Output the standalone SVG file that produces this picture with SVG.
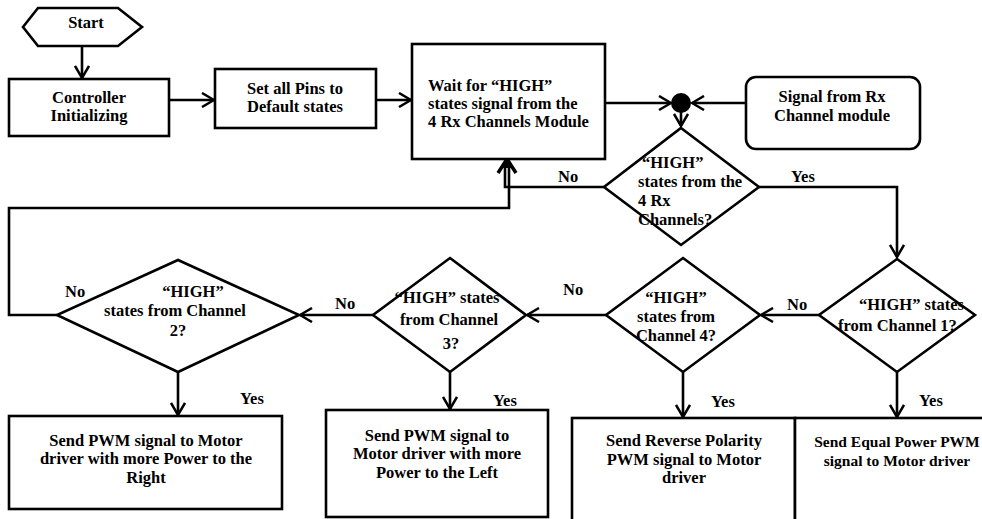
<svg xmlns="http://www.w3.org/2000/svg" width="982" height="519" viewBox="0 0 982 519">
<style>
.s{fill:#fff;stroke:#000;stroke-width:2.6}
.c{fill:none;stroke:#000;stroke-width:2.6}
text{font-family:"Liberation Serif","Times New Roman",serif;font-weight:bold;font-size:16.5px;fill:#000}
.m{text-anchor:middle}
.e{font-size:15.5px}
</style>
<defs>
<marker id="arr" viewBox="0 0 14 16" refX="13" refY="8" markerWidth="14" markerHeight="16" markerUnits="userSpaceOnUse" orient="auto">
<path d="M1,1 L13,8 L1,15" fill="none" stroke="#000" stroke-width="2.5"/>
</marker>
</defs>
<rect width="982" height="519" fill="#fff"/>
<g id="connectors">
<line class="c" x1="82" y1="46" x2="82" y2="78" marker-end="url(#arr)"/>
<line class="c" x1="169" y1="100" x2="214" y2="100" marker-end="url(#arr)"/>
<line class="c" x1="376" y1="100" x2="411" y2="100" marker-end="url(#arr)"/>
<line class="c" x1="605" y1="103" x2="671" y2="103" marker-end="url(#arr)"/>
<line class="c" x1="746" y1="103" x2="692" y2="103" marker-end="url(#arr)"/>
<line class="c" x1="681" y1="112" x2="681" y2="126" marker-end="url(#arr)"/>
<polyline class="c" points="604,187 505,187 505,163"/>
<polyline class="c" points="57,315 9,315 9,208 509,208 509,163"/>
<path d="M498,173 L507,159 L516,173" fill="none" stroke="#000" stroke-width="3.5"/>
<path d="M502,168 L507,161 L512,168 Z" fill="#000"/>
<polyline class="c" points="759,187 897,187 897,257" marker-end="url(#arr)"/>
<line class="c" x1="819" y1="315" x2="761" y2="315" marker-end="url(#arr)"/>
<line class="c" x1="606" y1="315" x2="527" y2="315" marker-end="url(#arr)"/>
<line class="c" x1="373" y1="315" x2="300" y2="315" marker-end="url(#arr)"/>
<line class="c" x1="178" y1="372" x2="178" y2="415" marker-end="url(#arr)"/>
<line class="c" x1="450" y1="372" x2="450" y2="409" marker-end="url(#arr)"/>
<line class="c" x1="683" y1="372" x2="683" y2="417" marker-end="url(#arr)"/>
<line class="c" x1="897" y1="372" x2="897" y2="417" marker-end="url(#arr)"/>
<text x="558" y="182">No</text>
<text x="791" y="182">Yes</text>
<text x="787" y="310">No</text>
<text x="563" y="295">No</text>
<text x="335" y="309">No</text>
<text x="65" y="297">No</text>
<text x="240" y="404">Yes</text>
<text x="493" y="406">Yes</text>
<text x="711" y="407">Yes</text>
<text x="919" y="406">Yes</text>
</g>
<g id="start">
<polygon class="s" points="23,27 38,8 118,8 142,27 118,46 38,46"/>
<text class="m" x="86" y="28">Start</text>
</g>
<g id="controller-init">
<rect class="s" x="9" y="79" width="160" height="57"/>
<text class="m" x="89" y="103">Controller</text>
<text class="m" x="89" y="121">Initializing</text>
</g>
<g id="set-pins">
<rect class="s" x="215" y="69" width="161" height="59"/>
<text class="m" x="295" y="94">Set all Pins to</text>
<text class="m" x="295" y="112">Default states</text>
</g>
<g id="wait-high">
<rect class="s" x="412" y="44" width="193" height="115"/>
<text x="428" y="91">Wait for “HIGH”</text>
<text x="428" y="109">states signal from the</text>
<text x="428" y="127">4 Rx Channels Module</text>
</g>
<g id="junction">
<circle cx="681" cy="103" r="10" fill="#000"/>
</g>
<g id="signal-rx">
<rect class="s" x="746" y="77" width="174" height="72" rx="10"/>
<text class="m" x="832" y="102">Signal from Rx</text>
<text class="m" x="832" y="121">Channel module</text>
</g>
<g id="dec-4rx">
<polygon class="s" points="681,128 759,187 681,245 604,187"/>
<text x="642" y="168">“HIGH”</text>
<text x="638" y="187">states from the</text>
<text x="638" y="206">4 Rx</text>
<text x="638" y="225">Channels?</text>
</g>
<g id="dec-ch1">
<polygon class="s" points="897,259 975,315 897,372 819,315"/>
<text x="859" y="310">“HIGH” states</text>
<text x="838" y="331">from Channel 1?</text>
</g>
<g id="dec-ch4">
<polygon class="s" points="683,258 760,315 683,372 606,315"/>
<text class="m" x="676" y="303">“HIGH”</text>
<text class="m" x="676" y="322">states from</text>
<text class="m" x="676" y="341">Channel 4?</text>
</g>
<g id="dec-ch3">
<polygon class="s" points="450,258 526,315 450,372 373,315"/>
<text class="m" x="447" y="303">“HIGH” states</text>
<text class="m" x="449" y="325">from Channel</text>
<text class="m" x="451" y="349">3?</text>
</g>
<g id="dec-ch2">
<polygon class="s" points="178,260 299,315 178,372 57,315"/>
<text class="m" x="193" y="297">“HIGH”</text>
<text class="m" x="175" y="316">states from Channel</text>
<text class="m" x="178" y="336">2?</text>
</g>
<g id="pwm-right">
<rect class="s" x="9" y="416" width="273" height="93"/>
<text class="m" x="146" y="446">Send PWM signal to Motor</text>
<text class="m" x="146" y="464">driver with more Power to the</text>
<text class="m" x="146" y="483">Right</text>
</g>
<g id="pwm-left">
<rect class="s" x="326" y="410" width="222" height="107"/>
<text class="m" x="437" y="441">Send PWM signal to</text>
<text class="m" x="437" y="459">Motor driver with more</text>
<text class="m" x="437" y="478">Power to the Left</text>
</g>
<g id="pwm-reverse">
<rect class="s" x="572" y="418" width="223" height="110"/>
<text class="m" x="684" y="446">Send Reverse Polarity</text>
<text class="m" x="684" y="465">PWM signal to Motor</text>
<text class="m" x="684" y="483">driver</text>
</g>
<g id="pwm-equal">
<rect class="s" x="795" y="418" width="200" height="110"/>
<text class="m e" x="897" y="447">Send Equal Power PWM</text>
<text class="m e" x="897" y="466">signal to Motor driver</text>
</g>
</svg>
